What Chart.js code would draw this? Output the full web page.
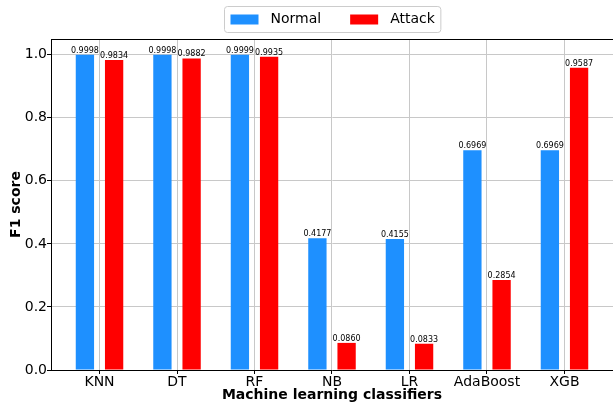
<!DOCTYPE html>
<html>
<head>
<meta charset="utf-8">
<script src="https://cdn.jsdelivr.net/npm/chart.js@4/dist/chart.umd.min.js"></script>
<style>
  html, body { margin: 0; padding: 0; background: #ffffff; }
  canvas { display: block; }
</style>
</head>
<body>
<canvas id="chart" width="613" height="406"></canvas>
<script>
// F1 score per classifier, for normal and attack traffic
const classifiers = ['KNN', 'DT', 'RF', 'NB', 'LR', 'AdaBoost', 'XGB'];
const normalF1 = [0.9998, 0.9998, 0.9999, 0.4177, 0.4155, 0.6969, 0.6969];
const attackF1 = [0.9834, 0.9882, 0.9935, 0.0860, 0.0833, 0.2854, 0.9587];
const yTicks = [0.0, 0.2, 0.4, 0.6, 0.8, 1.0];
const seriesNames = ['Normal', 'Attack'];
const seriesColors = ['#1e90ff', '#ff0000'];

const FONT = 'DejaVu Sans';
const GRID = '#c8c8c8';
const X_MARGIN = 0.626;

const toPoints = vals => vals.map((v, i) => ({ x: i, y: v }));

// Value labels above bars, top frame line and a boxed legend
const decorations = {
  id: 'decorations',
  afterDraw(chart) {
    const ctx = chart.ctx;
    const area = chart.chartArea;
    ctx.save();

    // value labels
    ctx.font = `8px ${FONT}`;
    ctx.fillStyle = '#000';
    ctx.textAlign = 'center';
    ctx.textBaseline = 'alphabetic';
    chart.data.datasets.forEach((ds, di) => {
      chart.getDatasetMeta(di).data.forEach((bar, j) => {
        ctx.fillText(ds.data[j].y.toFixed(4), bar.x, bar.y - 2);
      });
    });

    // top frame line
    ctx.strokeStyle = '#000';
    ctx.lineWidth = 1;
    ctx.beginPath();
    ctx.moveTo(area.left, Math.round(area.top) + 0.5);
    ctx.lineTo(area.right, Math.round(area.top) + 0.5);
    ctx.stroke();

    // legend
    ctx.font = `14px ${FONT}`;
    const patchW = 28, patchH = 10, gapPatchText = 12, gapItems = 29, padX = 6;
    const items = chart.data.datasets.map(ds => ({
      text: ds.label, color: ds.backgroundColor, w: ctx.measureText(ds.label).width
    }));
    const total = padX * 2 +
      items.reduce((s, it) => s + patchW + gapPatchText + it.w, 0) +
      gapItems * (items.length - 1);
    const cx = (area.left + area.right) / 2;
    const x0 = Math.round(cx - total / 2) + 0.5, y0 = 6.5, h = 26;
    ctx.fillStyle = 'rgba(255,255,255,0.8)';
    ctx.strokeStyle = '#cccccc';
    ctx.beginPath();
    ctx.roundRect(x0, y0, total, h, 3);
    ctx.fill();
    ctx.stroke();
    let x = x0 + padX;
    const cy = y0 + h / 2;
    ctx.textAlign = 'left';
    ctx.textBaseline = 'middle';
    items.forEach(it => {
      ctx.fillStyle = it.color;
      ctx.fillRect(x, cy - patchH / 2, patchW, patchH);
      x += patchW + gapPatchText;
      ctx.fillStyle = '#000';
      ctx.fillText(it.text, x, cy);
      x += it.w + gapItems;
    });
    ctx.restore();
  }
};

new Chart(document.getElementById('chart'), {
  type: 'bar',
  data: {
    datasets: [
      { label: seriesNames[0], data: toPoints(normalF1), backgroundColor: seriesColors[0] },
      { label: seriesNames[1], data: toPoints(attackF1), backgroundColor: seriesColors[1] }
    ]
  },
  options: {
    responsive: false,
    animation: false,
    devicePixelRatio: 1,
    layout: { padding: { top: 39, left: 0, right: 0, bottom: 0 } },
    datasets: {
      bar: { categoryPercentage: 0.7535, barPercentage: 0.627, borderWidth: 0 }
    },
    plugins: {
      legend: { display: false },
      tooltip: { enabled: false }
    },
    scales: {
      x: {
        type: 'linear',
        offset: false,
        min: -X_MARGIN,
        max: classifiers.length - 1 + X_MARGIN,
        z: 1,
        afterBuildTicks: axis => { axis.ticks = classifiers.map((_, i) => ({ value: i })); },
        afterFit: axis => { axis.height = 36; },
        grid: { offset: false, color: GRID, lineWidth: 1, tickColor: '#000', tickLength: 4 },
        border: { display: true, color: '#000', width: 1 },
        ticks: {
          padding: 0,
          color: '#000',
          font: { family: FONT, size: 14 },
          maxRotation: 0,
          autoSkip: false,
          callback: v => classifiers[v]
        },
        title: {
          display: true,
          text: 'Machine learning classifiers',
          color: '#000',
          font: { family: FONT, size: 14, weight: 'bold' },
          padding: { top: 0, bottom: 2 }
        }
      },
      y: {
        min: 0,
        max: 1.05,
        z: 1,
        afterBuildTicks: axis => { axis.ticks = yTicks.map(v => ({ value: v })); },
        afterFit: axis => { axis.width = 51; },
        grid: { color: GRID, lineWidth: 1, tickColor: '#000', tickLength: 4 },
        border: { display: true, color: '#000', width: 1 },
        ticks: {
          padding: 0,
          color: '#000',
          font: { family: FONT, size: 14 },
          callback: v => v.toFixed(1)
        },
        title: {
          display: true,
          text: 'F1 score',
          color: '#000',
          font: { family: FONT, size: 14, weight: 'bold' },
          padding: { top: 8, bottom: 0 }
        }
      }
    }
  },
  plugins: [decorations]
});
</script>
</body>
</html>
